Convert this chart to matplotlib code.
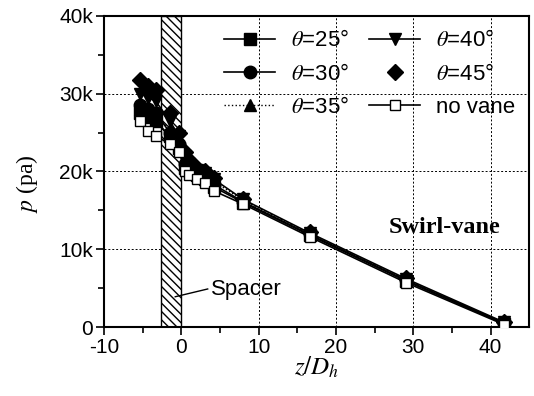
import matplotlib.pyplot as plt
import numpy as np

plt.rcParams['font.family'] = ['Liberation Sans', 'DejaVu Sans']
plt.rcParams['mathtext.fontset'] = 'stix'
plt.rcParams['axes.unicode_minus'] = False
plt.rcParams['hatch.linewidth'] = 1.0

# axial positions z/D_h of the pressure taps
z = [-5.3, -4.3, -3.3, -1.5, -0.3, 0.5, 1.0, 2.0, 3.0, 4.2, 8.0, 16.6, 29.1, 41.8]

# static pressure (kPa) for each vane angle
p25 = [27.5, 27.0, 26.5, 24.5, 23.0, 20.5, 20.2, 19.5, 19.0, 18.0, 16.0, 11.8, 5.9, 0.4]
p30 = [28.5, 28.0, 27.5, 25.0, 23.5, 21.0, 20.5, 19.8, 19.2, 18.3, 16.1, 11.9, 6.0, 0.5]
p35 = [28.0, 27.5, 27.0, 25.5, 24.0, 21.5, 20.8, 20.0, 19.5, 18.7, 16.3, 12.0, 6.1, 0.5]
p40 = [30.0, 29.5, 29.0, 26.5, 24.5, 22.0, 21.0, 20.2, 19.8, 19.0, 16.4, 12.1, 6.2, 0.6]
p45 = [31.7, 31.0, 30.5, 27.5, 25.0, 22.5, 21.5, 20.5, 20.0, 19.2, 16.5, 12.2, 6.3, 0.6]
pnv = [26.5, 25.2, 24.6, 23.5, 22.5, 20.0, 19.5, 19.0, 18.5, 17.5, 15.8, 11.6, 5.7, 0.3]

spacer = [-2.7, 0.0]

fig = plt.figure(figsize=(5.34, 3.96), dpi=100)
ax = fig.add_axes([0.195, 0.174, 0.796, 0.786])

#spacer region
ax.axvspan(spacer[0], spacer[1], facecolor='white', edgecolor='black', hatch='\\\\\\\\', linewidth=1.0, zorder=1)

ms = 9
ax.plot(z, np.array(p25)*1000, 'k-s', ms=ms, lw=1.2, label=r'$\theta$=25°', zorder=3)
ax.plot(z, np.array(p30)*1000, 'k-o', ms=ms, lw=1.2, label=r'$\theta$=30°', zorder=3)
ax.plot(z, np.array(p35)*1000, 'k^', ls=':', ms=ms, lw=1.0, label=r'$\theta$=35°', zorder=3)
ax.plot(z, np.array(p40)*1000, 'k-v', ms=ms, lw=1.2, label=r'$\theta$=40°', zorder=3)
ax.plot(z, np.array(p45)*1000, 'kD', ls='', ms=8, label=r'$\theta$=45°', zorder=3)
ax.plot(z, np.array(pnv)*1000, 'k-s', mfc='white', ms=7, lw=1.2, label='no vane', zorder=4)

ax.set_xlim(-10, 45)
ax.set_ylim(0, 40000)
ax.set_xticks([-10, 0, 10, 20, 30, 40])
ax.set_xticks(np.arange(-5, 45, 10), minor=True)
ax.set_yticks([0, 10000, 20000, 30000, 40000])
ax.set_yticklabels(['0', '10k', '20k', '30k', '40k'])
ax.set_yticks(np.arange(5000, 40000, 10000), minor=True)
ax.tick_params(which='both', direction='out', width=1.2, labelsize=15, pad=2)
ax.tick_params(which='major', length=6)
ax.tick_params(which='minor', length=4)
for s in ax.spines.values():
    s.set_linewidth(1.5)

ax.grid(True, color='black', linestyle=(0, (2, 2)), linewidth=0.7)
ax.set_axisbelow(True)

ax.set_xlabel(r'$z/D_h$', fontsize=18, labelpad=-2)
ax.set_ylabel(r'$p$ (pa)', fontsize=17, family='Liberation Serif')
ax.yaxis.set_label_coords(-0.15, 0.46)

ax.text(34, 12800, 'Swirl-vane', family='Liberation Serif', fontweight='bold', fontsize=17.5, ha='center', va='center')
ax.text(8.4, 4800, 'Spacer', fontsize=16, ha='center', va='center')
ax.plot([3.4, -0.8], [4900, 3900], 'k-', lw=1.0)

h, l = ax.get_legend_handles_labels()
leg = ax.legend(h, l, ncol=2, loc='upper right', frameon=False, fontsize=16,
                handlelength=2.3, handletextpad=0.7, columnspacing=0.9,
                labelspacing=0.55, borderaxespad=0.05, borderpad=0.6)

fig.savefig('out.png', dpi=100)
